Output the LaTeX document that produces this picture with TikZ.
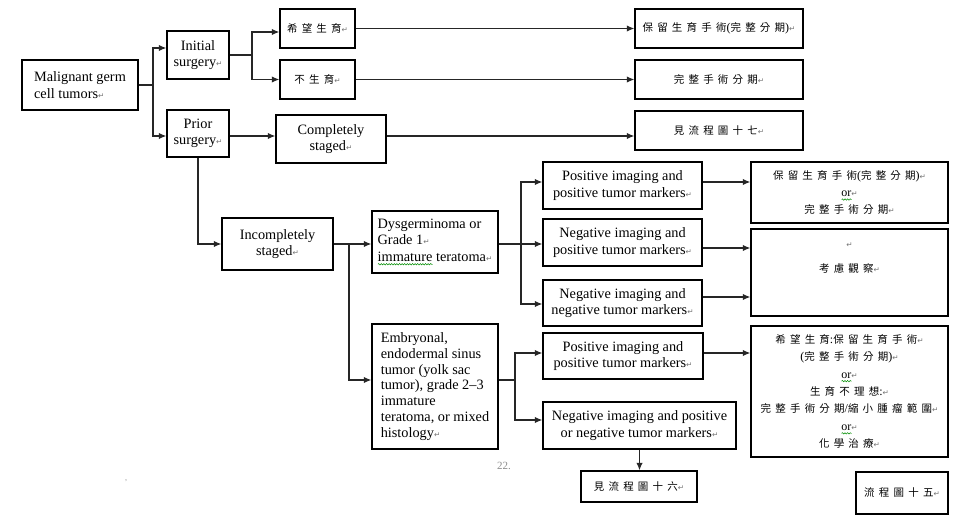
\documentclass[tikz,border=0pt]{standalone}
\usepackage{fontspec}
\setmainfont{Liberation Serif}
\newfontfamily\cjkfont[LetterSpace=40]{Noto Sans CJK TC}
\newfontfamily\symfont{DejaVu Sans}
\usetikzlibrary{arrows.meta,decorations.pathmorphing}
% paragraph mark, spaced CJK text, and a green wavy underline
\newcommand\pmk{{\symfont\fontsize{7.5}{8}\selectfont\textcolor{black!55}{↵}}}
\newcommand\zh[1]{{\cjkfont\fontsize{10.5}{17}\selectfont #1}}
\newcommand\zp[1]{{\fontsize{12}{17}\selectfont #1}}
\newcommand\squig[1]{\leavevmode\setbox0\hbox{#1}\rlap{\tikz[baseline=0pt]
  \draw[green!55!black, line width=0.5pt, decorate,
    decoration={snake, amplitude=0.7pt, segment length=2.6pt}]
    (0pt,-3pt) -- (\wd0,-3pt);}#1}
\begin{document}
\begin{tikzpicture}[x=1pt,y=-1pt,
  box/.style={draw=black, line width=1.4pt, inner sep=3pt, align=center,
    font=\fontsize{14.3}{16.5}\selectfont},
  zbox/.style={box, font=\fontsize{12}{17.4}\selectfont},
  conn/.style={draw=black!85, line width=1.2pt},
  arr/.style={conn, -{Latex[length=7.5pt,width=6.5pt]}},
  note/.style={text=black!45, inner sep=0pt}]
\useasboundingbox (0,0) rectangle (959,516);

% left column
\node[box, align=left, minimum width=116pt, minimum height=50pt] (mal) at (80,85) {Malignant germ\\cell tumors\pmk};
\node[box, minimum width=62pt, minimum height=48pt] (init) at (198,55) {Initial\\surgery\pmk};
\node[box, minimum width=62pt, minimum height=47pt] (prior) at (198,133.5) {Prior\\surgery\pmk};

% initial surgery branch
\node[box, minimum width=75pt, minimum height=39pt] (hope) at (317.5,28.5) {\zh{希望生育}\pmk};
\node[box, minimum width=75pt, minimum height=39pt] (nohope) at (317.5,79.5) {\zh{不生育}\pmk};
\node[box, minimum width=168pt, minimum height=39pt] (r1) at (719,28.5) {\zh{保留生育手術}\zp{(}\zh{完整分期}\zp{)}\pmk};
\node[box, minimum width=168pt, minimum height=39pt] (r2) at (719,79.5) {\zh{完整手術分期}\pmk};
\node[box, minimum width=168pt, minimum height=39pt] (r3) at (719,130.5) {\zh{見流程圖十七}\pmk};

% prior surgery branch
\node[box, minimum width=110pt, minimum height=48pt] (comp) at (331,139) {Completely\\staged\pmk};
\node[box, minimum width=111pt, minimum height=52pt] (incomp) at (277.5,244) {Incompletely\\staged\pmk};
\node[box, align=left, minimum width=126pt, minimum height=62pt] (dysg) at (435,242) {Dysgerminoma or\\Grade 1\pmk\\\squig{immature} teratoma\pmk};
\node[box, align=left, minimum width=126pt, minimum height=125pt,
  font=\fontsize{14.3}{15.9}\selectfont] (emb) at (435,386.5) {Embryonal,\\endodermal sinus\\tumor (yolk sac\\tumor), grade 2--3\\immature\\teratoma, or mixed\\histology\pmk};

% imaging / marker results
\node[box, minimum width=159pt, minimum height=47pt] (pp1) at (622.5,185.5) {Positive imaging and\\positive tumor markers\pmk};
\node[box, minimum width=159pt, minimum height=47pt] (np) at (622.5,242.5) {Negative imaging and\\positive tumor markers\pmk};
\node[box, minimum width=159pt, minimum height=46pt] (nn) at (622.5,303) {Negative imaging and\\negative tumor markers\pmk};
\node[box, minimum width=160pt, minimum height=46pt] (pp2) at (623,356) {Positive imaging and\\positive tumor markers\pmk};
\node[box, minimum width=193pt, minimum height=47pt] (npn) at (639.5,425.5) {Negative imaging and positive\\or negative tumor markers\pmk};

% outcomes
\node[zbox, minimum width=197pt, minimum height=61pt] (o1) at (849.5,192.5) {\zh{保留生育手術}\zp{(}\zh{完整分期}\zp{)}\pmk\\\squig{or}\pmk\\\zh{完整手術分期}\pmk};
\node[zbox, minimum width=197pt, minimum height=87pt] (o2) at (849.5,272.5) {\pmk\\[7pt]\zh{考慮觀察}\pmk\\[7pt]\strut};
\node[zbox, minimum width=197pt, minimum height=131pt] (o3) at (849.5,391.5) {\zh{希望生育}\zp{:}\zh{保留生育手術}\pmk\\\zp{(}\zh{完整手術分期}\zp{)}\pmk\\\squig{or}\pmk\\\zh{生育不理想}\zp{:}\pmk\\\zh{完整手術分期}\zp{/}\zh{縮小腫瘤範圍}\pmk\\\squig{or}\pmk\\\zh{化學治療}\pmk};
\node[box, minimum width=116pt, minimum height=31pt] (fc16) at (639,486.5) {\zh{見流程圖十六}\pmk};
\node[box, minimum width=92pt, minimum height=42pt] (fc15) at (902,493) {\zh{流程圖十五}\pmk};

% page marks
\node[note, font=\fontsize{11}{11}\selectfont] (pg) at (504,466) {22.};
\node[note, font=\fontsize{8}{8}\selectfont] (dot) at (126,481) {,};

% connectors
\coordinate (j1) at (153,85);
\draw[conn] (mal.east) -- (j1);
\path ([yshift=7pt]init.west) coordinate (a1) ([yshift=-2.5pt]prior.west) coordinate (a2);
\draw[arr] (j1) |- (a1);
\draw[arr] (j1) |- (a2);

\coordinate (j2) at (252,55);
\draw[conn] (init.east) -- (j2);
\path ([yshift=-3.5pt]hope.west) coordinate (a3);
\draw[arr] (j2) |- (a3);
\draw[arr] (j2) |- (nohope.west);
\draw[arr] (hope.east) -- (r1.west);
\draw[arr] (nohope.east) -- (r2.west);

\path ([yshift=-2.5pt]prior.east) coordinate (a4) ([yshift=3pt]comp.east) coordinate (a5);
\draw[arr] (a4) -- (a4 -| comp.west);
\draw[arr] (a5) -- (a5 -| r3.west);
\draw[arr] (prior.south) |- (incomp.west);

\coordinate (j3) at (349,244);
\draw[arr] (incomp.east) -- (incomp.east -| dysg.west);
\path ([yshift=6.5pt]emb.west) coordinate (a6);
\draw[arr] (j3) |- (a6);

\coordinate (j4) at (521,244);
\draw[conn] (j4 -| dysg.east) -- (j4);
\path ([yshift=3.5pt]pp1.west) coordinate (a7) ([yshift=-1pt]nn.west) coordinate (a8);
\draw[arr] (j4) |- (a7);
\draw[arr] (j4) -- (j4 -| np.west);
\draw[arr] (j4) |- (a8);

\path ([yshift=3.5pt]pp1.east) coordinate (b1) ([yshift=-5.5pt]np.east) coordinate (b2) ([yshift=6pt]nn.east) coordinate (b3);
\draw[arr] (b1) -- (b1 -| o1.west);
\draw[arr] (b2) -- (b2 -| o2.west);
\draw[arr] (b3) -- (b3 -| o2.west);

\coordinate (j5) at (515,380);
\draw[conn] (j5 -| emb.east) -- (j5);
\path ([yshift=3pt]pp2.west) coordinate (a9) ([yshift=5.5pt]npn.west) coordinate (a10);
\draw[arr] (j5) |- (a9);
\draw[arr] (j5) |- (a10);
\path ([yshift=3pt]pp2.east) coordinate (b4);
\draw[arr] (b4) -- (b4 -| o3.west);
\draw[arr] (npn.south) -- (npn.south |- fc16.north);
\end{tikzpicture}
\end{document}
